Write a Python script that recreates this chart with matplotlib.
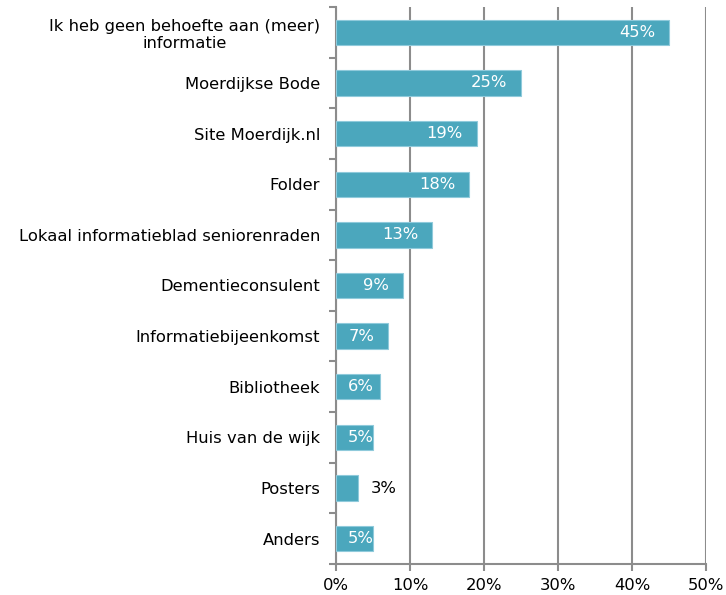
import matplotlib
matplotlib.use("Agg")
import matplotlib.pyplot as plt
import numpy as np

categories = ["Ik heb geen behoefte aan (meer)\ninformatie", "Moerdijkse Bode", "Site Moerdijk.nl",
              "Folder", "Lokaal informatieblad seniorenraden", "Dementieconsulent",
              "Informatiebijeenkomst", "Bibliotheek", "Huis van de wijk", "Posters", "Anders"]
values = [45, 25, 19, 18, 13, 9, 7, 6, 5, 3, 5]
xticks = [0, 10, 20, 30, 40, 50]
xticklabels = ["0%", "10%", "20%", "30%", "40%", "50%"]

plt.rcParams['font.family'] = ['Verdana', 'DejaVu Sans']
fig = plt.figure(figsize=(7.26, 5.95), dpi=100)
ax = fig.add_axes([336/726, 1-564/595, 370/726, (564-7)/595])

n = len(categories)
ypos = np.arange(n)
bar_color = "#4BA7BD"
ax.barh(ypos, values, height=0.5, color=bar_color, edgecolor="#8FCADB", linewidth=0.8, zorder=3)
ax.set_ylim(n - 0.5, -0.5)
ax.set_xlim(0, 50)
ax.set_xticks(xticks)
ax.set_xticklabels(xticklabels, fontsize=11.8)
ax.set_yticks(ypos)
ax.set_yticklabels(categories, fontsize=11.8, multialignment="center")
ax.tick_params(axis="y", length=0, pad=11.5)
ax.set_yticks(np.arange(-0.5, n, 1), minor=True)
ax.tick_params(axis="y", which="minor", length=5, color="#8c8c8c", width=1.5)
ax.tick_params(axis="x", length=5, color="#8c8c8c", width=1.5, pad=5)
ax.grid(axis="x", color="#8c8c8c", linewidth=1.5, zorder=0)
for s in ["top", "right"]:
    ax.spines[s].set_visible(False)
for s in ["left", "bottom"]:
    ax.spines[s].set_color("#8c8c8c")
    ax.spines[s].set_linewidth(1.5)

for y, v in zip(ypos, values):
    if v >= 5:
        xr = max(v - 1.85, 5.1)
        ax.text(xr, y, f"{v}%", ha="right", va="center", color="white",
                fontsize=11.8, zorder=4)
    else:
        ax.annotate(f"{v}%", (v, y), xytext=(9, 0), textcoords="offset points",
                    ha="left", va="center", color="black", fontsize=11.8, zorder=4)

fig.savefig("out.png", dpi=100)
